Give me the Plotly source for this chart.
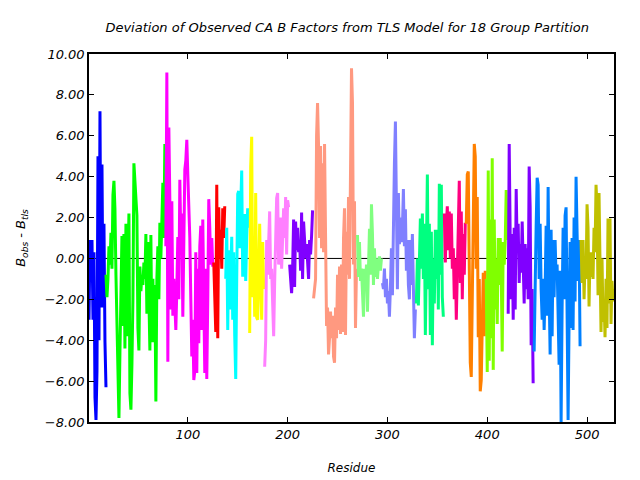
import plotly.graph_objects as go

# Group start residues and per-residue deviations (B_obs - B_tls)
group_starts = [1, 18, 78, 126, 138, 162, 177, 202, 226, 270, 295, 329, 357, 379, 399, 421, 447, 494]
group_colors = ["#0000ff", "#00ff00", "#ff00ff", "#ff0000", "#00ffff", "#ffff00",
                "#ff80ff", "#8000ff", "#ff9980", "#80ff80", "#8080ff", "#00ff80",
                "#ff0080", "#ff8000", "#80ff00", "#8000ff", "#0080ff", "#c0c000"]

g01 = [-3.0, 0.9, -0.4, 0.9, -3.0, 0.3, -6.8, -7.9, -5.5, 5.0, -4.0, 7.2, -2.4, 4.6, -2.4, 1.7, -4.1, -6.3]
g02 = [-0.8, -1.9, -1.0, 0.6, -0.3, 1.25, -0.5, 3.1, 3.8, 2.4, -0.8, -2.7, -5.6, -7.8, -4.6, -1.6,
       1.1, -3.3, 1.2, -4.4, 1.7, -3.8, -0.4, 2.2, -6.6, -7.4, -5.2, -2.0, 4.65, 3.75, 3.2, 2.1,
       -3.4, -4.5, -0.4, -1.6, -0.8, -1.3, -0.2, -1.0, 1.2, -2.7, 0.8, -2.8, -4.5, 1.15, -4.1,
       -1.0, -4.1, -1.3, -7.0, -1.0, 0.6, -2.0, 1.75, 0.0, 2.4, 3.7, 1.0, 5.6]
g03 = [0.6, 9.1, -5.05, 6.4, 2.8, -2.5, 2.8, -2.8, -1.0, -3.0, -3.5, -1.5, 1.05, -2.0, 3.85, 1.0,
       2.2, -2.85, 0.5, 4.35, 4.8, 5.8, 4.1, 2.4, 1.0, -2.0, -4.8, -3.0, -5.95, -5.5, 0.3, -5.6,
       -0.5, -4.15, 0.6, 1.6, -3.5, 1.9, -4.0, -5.6, -0.5, -5.9, -2.0, 2.9, 1.5, -0.3, 1.0, -0.4]
g04 = [-0.2, -2.5, -3.6, 3.6, -3.9, 2.5, 0.0, 1.4, -0.5, 2.45, 1.0, 2.55]
g05 = [-1.0, 1.5, -3.5, 0.4, -2.5, -0.5, 1.06, -3.0, 0.3, -3.8, -5.9, -1.0, 3.15, 3.3, 0.5, 2.5,
       4.3, -0.9, 2.1, 2.1, -1.1, 1.0, 2.45, 1.5]
g06 = [-3.65, 4.5, 5.95, -1.9, 1.0, -2.85, 3.2, -2.9, -3.0, -0.6, 1.7, -1.2, -3.0, 0.8, -1.5]
g07 = [-5.3, -4.0, 0.9, -0.8, 0.8, 2.3, -1.0, -0.5, -2.2, -3.8, -1.2, 0.4, 2.95, 3.2, -0.3, 0.5,
       2.0, -0.5, 1.5, 2.45, 1.0, 3.0, 0.2, 2.85, 2.5]
g08 = [-0.3, -1.15, -1.7, -0.5, 1.9, -1.4, 1.8, 0.4, 1.5, 0.3, 0.9, -0.6, 2.25, -1.0, 1.8, 0.9,
       0.0, 0.7, -0.2, -1.0, 0.9, 0.2, 1.1, 2.35]
g09 = [-1.95, -1.4, -1.0, 6.0, 7.6, 5.5, 1.0, 5.5, 0.5, 4.65, 0.3, 5.6, 2.0, -3.3, -2.4, -4.7,
       -3.9, -2.6, -3.9, -2.8, -4.8, -5.1, -2.4, -3.9, -0.8, -3.5, -0.4, -3.7, -0.3, -3.6, 1.0,
       2.45, -3.75, 1.3, -0.8, 3.0, -1.0, 5.6, 9.3, 7.6, -0.3, 2.8, -3.4, -0.5]
g10 = [1.15, -0.9, 0.8, -1.1, -0.5, -2.3, -2.85, -0.5, -1.5, -0.3, -2.6, -0.5, 1.45, -0.8, 2.65,
       1.2, -1.3, 0.5, -0.9, 0.0, -1.0, -0.3, 0.1, -0.6, 0.0]
g11 = [-1.2, -1.5, -0.5, -1.9, -1.0, -2.2, -1.6, -2.85, -1.4, 0.5, -1.8, 3.2, 4.65, 6.7, 3.2,
       -1.5, 3.2, 0.7, 2.0, 0.8, 1.5, 3.4, 0.6, 2.4, -0.6, 0.9, -1.3, -2.0, 0.9, -1.3, 1.2, -1.3,
       -3.9, -2.5]
g12 = [-2.2, 0.0, -2.3, 1.0, 1.95, -0.5, 2.2, -1.0, 1.7, -3.75, 1.8, 4.1, -1.5, 1.7, -3.75, 1.3,
       -4.25, 0.0, -2.2, 1.4, -1.0, 1.4, -2.5, 3.65, -0.8, 3.6, -1.9, -2.85]
g13 = [2.2, -0.2, 1.6, 2.55, 0.4, 2.3, 0.0, 2.2, -0.5, 0.5, -2.0, 0.0, -3.0, -0.5, 2.9, 3.8,
       -1.2, 2.3, -2.0, 1.2, -0.8, 1.75]
g14 = [1.7, 4.1, 4.25, -2.0, -5.1, -5.8, -1.5, 4.0, 5.6, 5.0, -0.5, 3.0, -3.85, -1.0, -6.5,
       -5.95, -3.0, -0.7, -3.8, -0.6]
g15 = [-1.0, -5.55, 4.3, -5.0, 1.9, -3.9, 4.9, -5.45, 1.9, -2.5, 0.0, -3.2, 1.0, -1.3, 1.0,
       -0.6, -4.55, 0.8, -0.3, 0.8, 3.35, 0.9]
g16 = [-2.7, 5.6, 1.0, -2.0, 1.2, -3.0, 1.5, -2.5, 3.4, 0.5, 1.7, -1.2, 0.7, -0.7, 1.8, 0.3,
       -2.2, 0.7, -1.5, 0.5, -2.0, 4.5, 2.5, -4.25, -1.5, -6.1]
g17 = [-4.55, -0.5, 1.6, 3.95, 3.6, -1.0, 1.7, -1.5, -3.0, -1.0, -3.5, -1.5, 1.6, -2.8, 3.5,
       -1.5, -4.7, 1.4, -3.8, 0.9, -1.9, 0.9, -1.0, -0.3, -4.25, -5.2, -0.6, -8.0, -2.5, 1.5,
       -2.0, 2.1, 2.5, -5.5, -7.9, -3.0, 0.8, -3.4, 1.0, -3.5, 2.0, -2.1, 4.0, 1.3, -1.1, 0.9,
       -4.3]
g18 = [0.9, -1.2, 0.9, -2.0, -0.2, -1.0, 2.65, 1.5, -2.35, 0.3, -0.9, 0.3, -1.0, 1.5, 0.3, 3.6,
       2.5, -1.8, 3.2, -0.5, -3.6, 0.0, -3.1, -2.0, -3.85, -1.0, -3.4, 1.95, -2.2, 1.95, -3.2,
       -1.1, -2.1, -1.5]

groups = [g01, g02, g03, g04, g05, g06, g07, g08, g09, g10, g11, g12, g13, g14, g15, g16, g17, g18]

x_ticks = [100, 200, 300, 400, 500]
y_ticks = [-8, -6, -4, -2, 0, 2, 4, 6, 8, 10]

FONT = "DejaVu Sans"
fig = go.Figure()

for start, vals, col in zip(group_starts, groups, group_colors):
    fig.add_trace(go.Scatter(
        x=[start + i for i in range(len(vals))], y=vals, mode="lines",
        line=dict(color=col, width=3), hoverinfo="skip", showlegend=False))

fig.add_shape(type="line", xref="paper", yref="y", x0=0, x1=1, y0=0, y1=0,
              line=dict(color="black", width=1), layer="below")

axis_common = dict(showline=True, linecolor="black", linewidth=1.5, mirror="ticks",
                   ticks="inside", ticklen=5, tickcolor="black", tickwidth=1,
                   showgrid=False, zeroline=False,
                   tickfont=dict(family=FONT, size=13, color="black", style="italic"))

fig.update_layout(
    width=640, height=480,
    margin=dict(l=77, r=34, t=46, b=66),
    paper_bgcolor="white", plot_bgcolor="white",
    title=dict(text="Deviation of Observed CA B Factors from TLS Model for 18 Group Partition",
               x=0.53, xanchor="center", y=0.96, yanchor="middle",
               font=dict(family=FONT, size=13, color="black", style="italic")),
    xaxis=dict(range=[1, 527], tickvals=x_ticks,
               title=dict(text="Residue", standoff=22,
                          font=dict(family=FONT, size=12, color="black", style="italic")),
               **axis_common),
    yaxis=dict(range=[-8, 10], tickvals=y_ticks, tickformat=".2f",
               title=dict(text="B<sub>obs</sub> - B<sub>tls</sub>", standoff=16,
                          font=dict(family=FONT, size=13, color="black", style="italic")),
               **axis_common),
)

fig.write_html("out.html")
